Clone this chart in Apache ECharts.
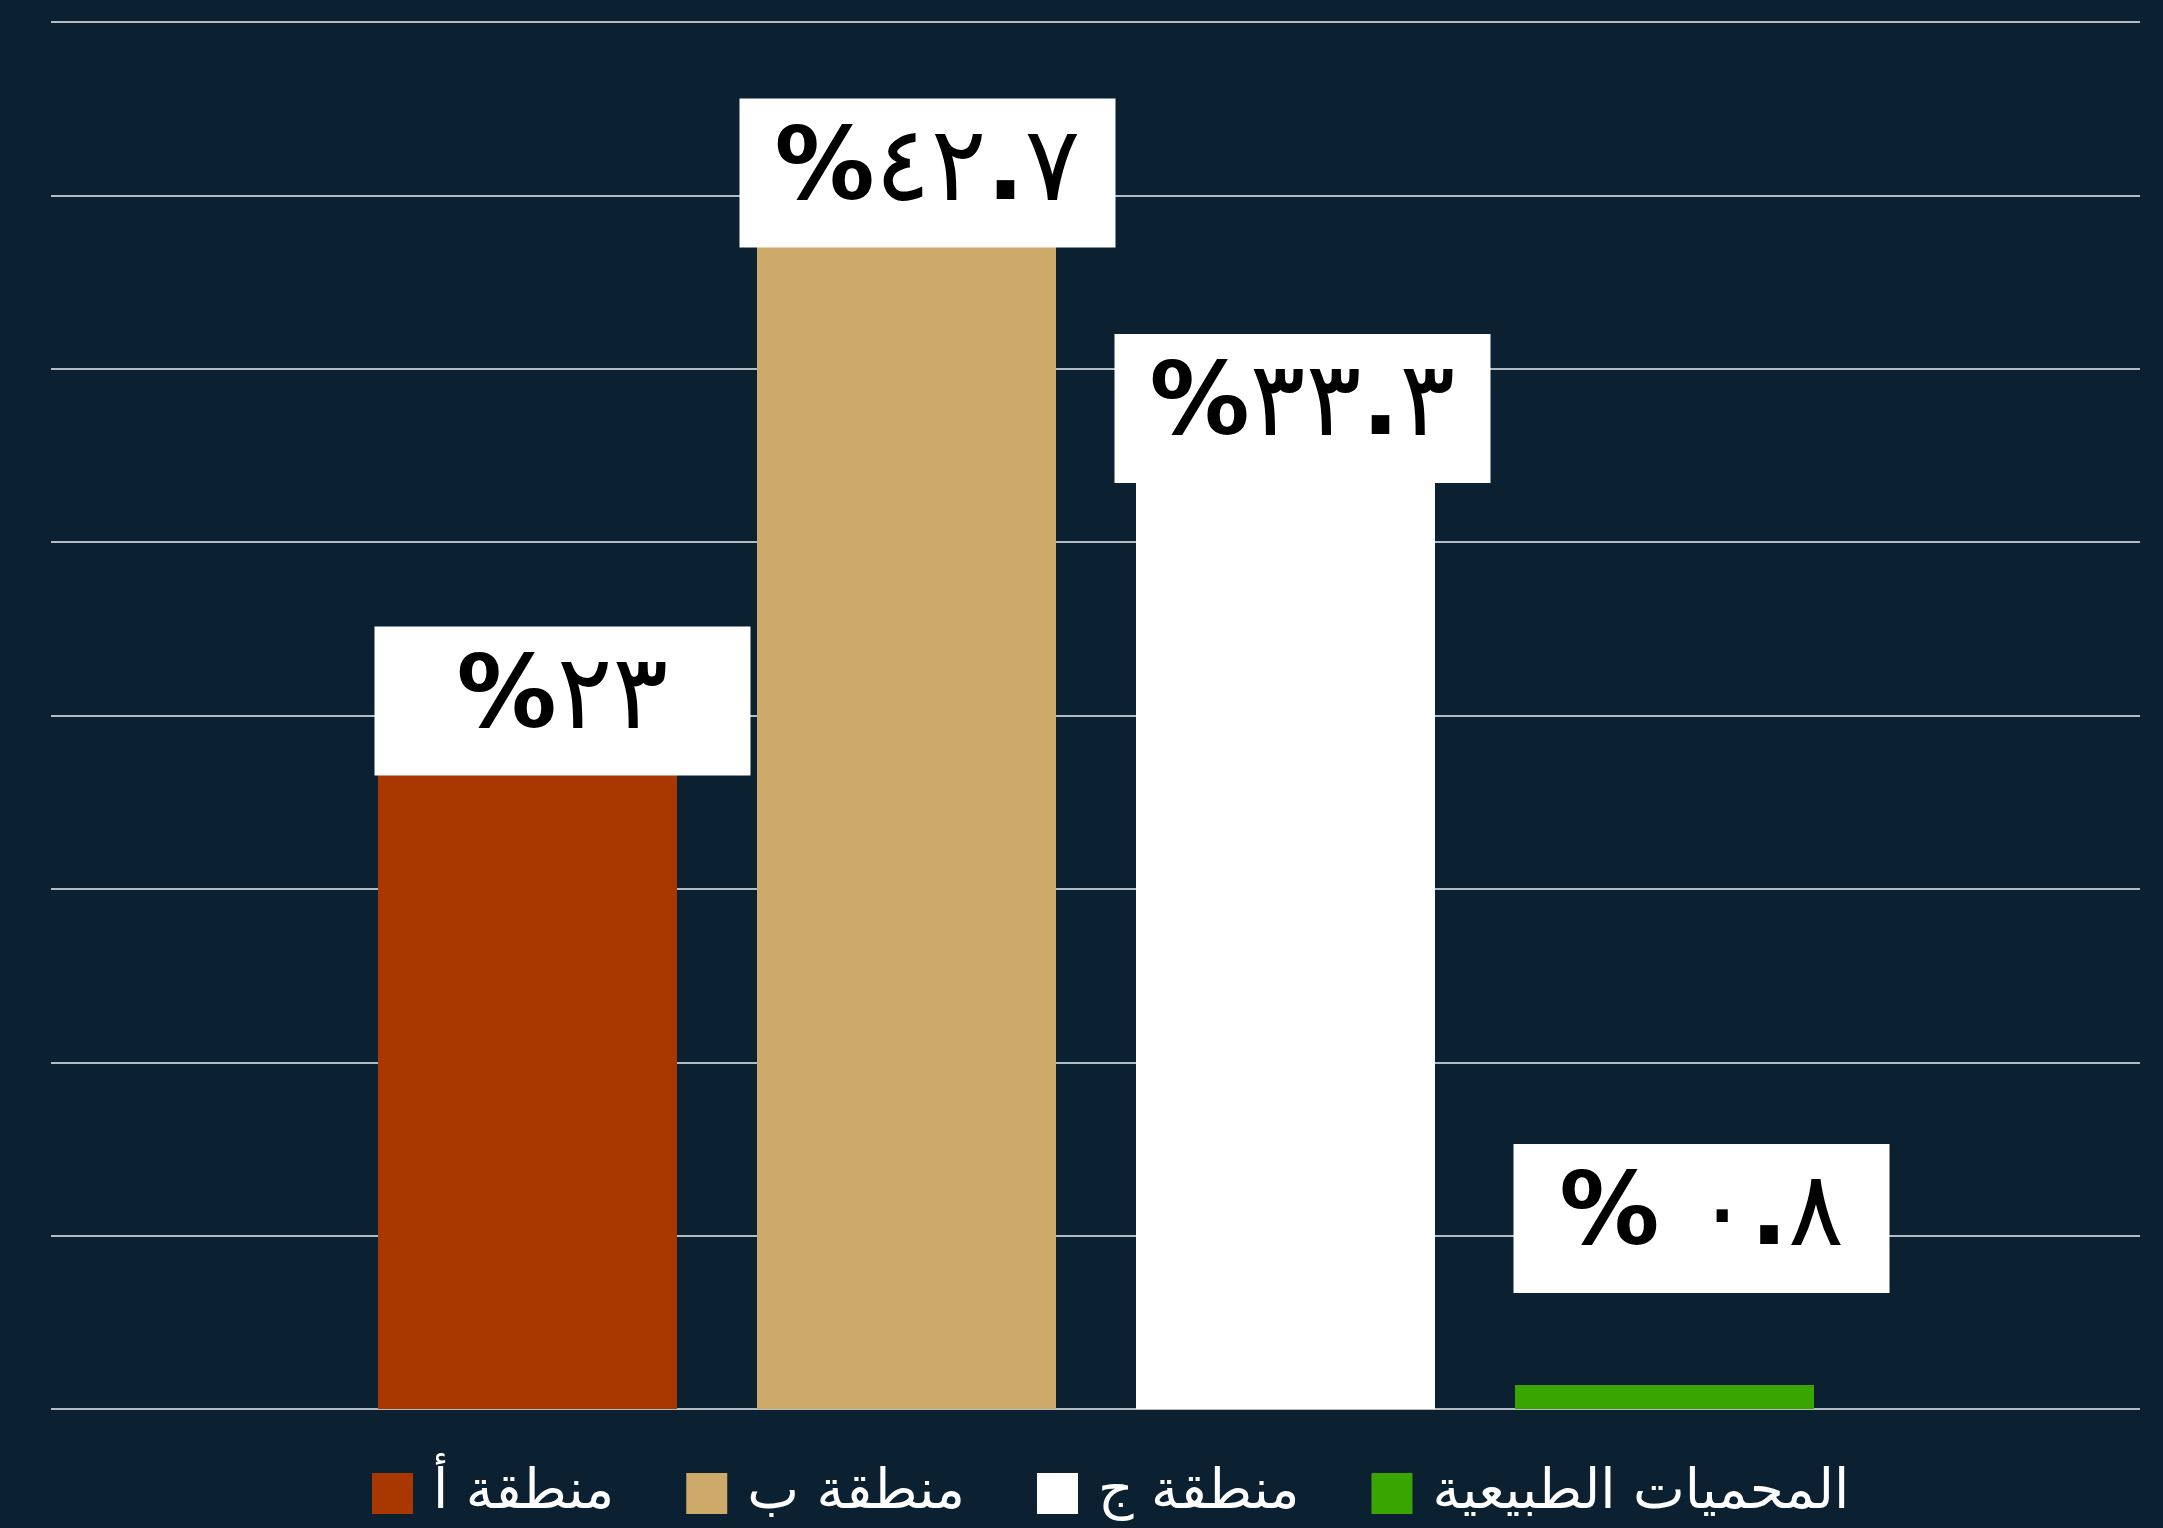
<!DOCTYPE html>
<html>
<head>
<meta charset="utf-8">
<script src="https://cdn.jsdelivr.net/npm/echarts@6/dist/echarts.min.js"></script>
<style>
  html, body { margin: 0; padding: 0; background: #0b2030; }
  #chart { width: 2163px; height: 1528px; }
</style>
</head>
<body>
<div id="chart"></div>
<script>
// البيانات
const categories = ["منطقة أ", "منطقة ب", "منطقة ج", "المحميات الطبيعية"];
const values = [23, 42.7, 33.3, 0.8];
const valueLabels = ["٢٣", "٤٢.٧", "٣٣.٣", "٠.٨"];
const percentSigns = ["%", "%", "%", "% "];
const barColors = ["#a83800", "#cdaa6a", "#ffffff", "#38a500"];

// إزاحة مربعات التسميات (تنسيق فقط)
const labelOffsets = [[35, 60], [21, 126], [17, 78], [37, -92]];

const yMax = 46;
const yInterval = 5.75;

const chart = echarts.init(document.getElementById("chart"));

// الأرقام بخط عادي والفاصلة العشرية بخط عريض
function richLabel(i) {
  const digits = valueLabels[i]
    .split(".")
    .map((s) => "{d|" + s + "}")
    .join("{p|.}");
  return "{p|" + percentSigns[i] + "}" + digits;
}

const series = categories.map((name, i) => ({
  name: name,
  type: "bar",
  stack: "total",
  xAxisIndex: 1,
  yAxisIndex: 1,
  barWidth: 299,
  z: 3,
  itemStyle: { color: barColors[i] },
  data: values.map((v, j) => (j === i ? v : null)),
  label: {
    show: true,
    position: "top",
    distance: 0,
    offset: labelOffsets[i],
    formatter: () => richLabel(i),
    backgroundColor: "#ffffff",
    width: 376,
    height: 149,
    lineHeight: 149,
    align: "center",
    rich: {
      p: {
        color: "#000000",
        fontFamily: "DejaVu Sans",
        fontWeight: "bold",
        fontSize: 100,
        lineHeight: 149,
      },
      d: {
        color: "#000000",
        fontFamily: "DejaVu Sans",
        fontWeight: "normal",
        fontSize: 104,
        lineHeight: 149,
      },
    },
  },
}));

const option = {
  backgroundColor: "#0b2030",
  animation: false,
  legend: {
    data: categories,
    left: 367,
    top: 1461,
    icon: "rect",
    itemWidth: 41,
    itemHeight: 41,
    itemGap: 72,
    textStyle: {
      color: "#ffffff",
      fontSize: 55,
      fontFamily: "DejaVu Sans",
      padding: [0, 0, 0, 15],
    },
  },
  grid: [
    // خطوط الشبكة
    { left: 51, right: 23, top: 22, height: 1387 },
    // الأعمدة
    { left: 338, width: 1516, top: 22, height: 1387 },
  ],
  xAxis: [
    { gridIndex: 0, type: "value", show: false },
    {
      gridIndex: 1,
      type: "category",
      data: categories,
      show: false,
    },
  ],
  yAxis: [
    {
      gridIndex: 0,
      type: "value",
      min: 0,
      max: yMax,
      interval: yInterval,
      axisLine: { show: false },
      axisTick: { show: false },
      axisLabel: { show: false },
      splitLine: { lineStyle: { color: "#b4bbc0", width: 2 } },
    },
    {
      gridIndex: 1,
      type: "value",
      min: 0,
      max: yMax,
      interval: yInterval,
      show: false,
      splitLine: { show: false },
    },
  ],
  series: series,
};

chart.setOption(option);
</script>
</body>
</html>
